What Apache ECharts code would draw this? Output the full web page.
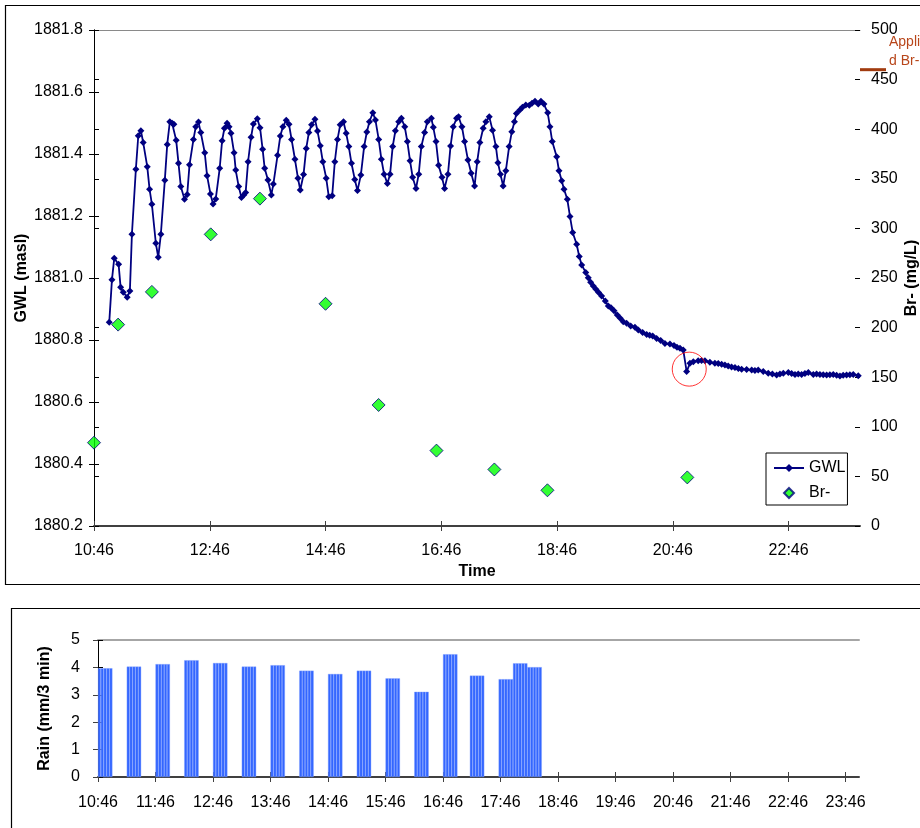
<!DOCTYPE html>
<html>
<head>
<meta charset="utf-8">
<script src="https://cdn.jsdelivr.net/npm/echarts@6/dist/echarts.min.js"></script>
<style>
  html, body { margin: 0; padding: 0; background: #fff; }
  #chart { width: 920px; height: 828px; }
</style>
</head>
<body>
<div id="chart"></div>
<script>
// Time is stored as minutes after the first reading at 10:46.
const START_MIN = 10 * 60 + 46;
const END_MIN = 794;                       // 24:00
const topTimeTicks = [0, 120, 240, 360, 480, 600, 720];
const rainTimeTicks = [0, 60, 120, 180, 240, 300, 360, 420, 480, 540, 600, 660, 720, 780];
const gwlTicks = [1880.2, 1880.4, 1880.6, 1880.8, 1881.0, 1881.2, 1881.4, 1881.6, 1881.8];
const brTicks = [0, 50, 100, 150, 200, 250, 300, 350, 400, 450, 500];
const rainTicks = [0, 1, 2, 3, 4, 5];

// Groundwater level (masl): [minutes, level]
const gwlReadings = [
  [15.8,1880.857],[18.6,1880.994],[21.0,1881.064],[25.5,1881.044],[27.6,1880.970],[30.3,1880.954],
  [34.4,1880.938],[37.2,1880.958],[39.3,1881.141],[43.4,1881.351],[45.9,1881.459],[48.6,1881.475],
  [51.0,1881.437],[55.2,1881.359],[57.6,1881.286],[60.0,1881.238],[64.1,1881.112],[66.6,1881.067],
  [69.3,1881.141],[73.4,1881.315],[75.9,1881.431],[78.6,1881.504],[81.0,1881.499],[82.8,1881.496],
  [85.2,1881.444],[87.6,1881.370],[90.0,1881.295],[93.8,1881.254],[96.6,1881.269],[99.0,1881.365],
  [103.1,1881.447],[105.5,1881.488],[108.3,1881.503],[110.7,1881.469],[114.8,1881.404],[117.2,1881.330],
  [120.7,1881.271],[123.4,1881.239],[126.2,1881.255],[130.3,1881.354],[132.8,1881.443],[135.2,1881.483],
  [137.9,1881.499],[140.0,1881.488],[142.0,1881.467],[145.2,1881.404],[146.9,1881.348],[150.0,1881.295],
  [152.8,1881.260],[155.2,1881.268],[157.2,1881.276],[159.7,1881.375],[162.8,1881.454],[165.2,1881.497],
  [169.3,1881.514],[172.1,1881.485],[174.8,1881.415],[176.9,1881.354],[180.3,1881.316],[183.8,1881.268],
  [185.9,1881.303],[190.3,1881.396],[193.1,1881.458],[195.8,1881.488],[199.3,1881.509],[202.1,1881.496],
  [204.8,1881.447],[208.3,1881.383],[211.4,1881.322],[213.8,1881.284],[217.2,1881.334],[220.0,1881.418],
  [222.7,1881.469],[225.5,1881.494],[229.0,1881.512],[231.7,1881.474],[234.5,1881.427],[237.2,1881.375],
  [240.7,1881.322],[243.4,1881.262],[246.9,1881.265],[249.6,1881.375],[252.4,1881.447],[255.2,1881.494],
  [258.6,1881.504],[261.4,1881.467],[264.1,1881.424],[266.9,1881.370],[270.3,1881.318],[273.1,1881.282],
  [276.6,1881.332],[280.0,1881.424],[282.8,1881.471],[285.5,1881.504],[289.0,1881.533],[291.7,1881.510],
  [295.1,1881.447],[297.9,1881.383],[300.7,1881.335],[304.1,1881.305],[306.9,1881.335],[309.6,1881.424],
  [312.4,1881.475],[315.8,1881.504],[318.6,1881.515],[322.1,1881.488],[324.8,1881.440],[327.6,1881.378],
  [330.3,1881.325],[333.8,1881.289],[336.6,1881.335],[339.3,1881.424],[342.7,1881.469],[345.5,1881.504],
  [349.7,1881.515],[351.7,1881.486],[354.5,1881.440],[357.2,1881.364],[360.7,1881.325],[363.4,1881.289],
  [366.9,1881.335],[369.6,1881.426],[372.4,1881.488],[375.8,1881.515],[377.9,1881.520],[381.4,1881.488],
  [384.1,1881.440],[387.6,1881.381],[391.0,1881.338],[394.5,1881.297],[397.2,1881.375],[400.0,1881.437],
  [403.4,1881.483],[406.2,1881.504],[409.7,1881.520],[413.1,1881.477],[416.6,1881.424],[418.7,1881.372],
  [421.3,1881.335],[424.1,1881.297],[426.9,1881.346],[430.3,1881.424],[433.1,1881.472],[435.8,1881.504],
  [437.9,1881.531],[441.4,1881.542],[444.1,1881.551],[447.6,1881.558],[451.2,1881.557],[454.0,1881.564],
  [457.1,1881.570],[460.5,1881.561],[463.3,1881.570],[466.4,1881.561],[470.3,1881.533],[472.6,1881.488],
  [475.0,1881.440],[479.6,1881.391],[482.0,1881.346],[484.8,1881.314],[487.2,1881.286],[490.6,1881.254],
  [493.4,1881.198],[496.2,1881.147],[500.3,1881.109],[503.0,1881.069],[505.5,1881.042],[509.7,1881.018],
  [512.3,1881.001],[514.8,1880.986],[517.5,1880.974],[520.3,1880.964],[523.1,1880.953],[526.2,1880.942],
  [530.0,1880.926],[533.1,1880.910],[535.9,1880.904],[539.0,1880.894],[542.4,1880.881],[545.5,1880.870],
  [548.6,1880.859],[552.1,1880.854],[556.3,1880.845],[560.7,1880.841],[564.2,1880.832],[568.7,1880.824],
  [572.9,1880.818],[576.0,1880.815],[579.1,1880.813],[583.2,1880.805],[587.4,1880.798],[591.8,1880.789],
  [597.0,1880.787],[601.2,1880.782],[604.3,1880.777],[607.4,1880.773],[610.8,1880.768],[614.3,1880.698],
  [617.7,1880.725],[621.2,1880.730],[626.3,1880.733],[629.8,1880.734],[633.3,1880.733],[638.4,1880.728],
  [643.6,1880.725],[647.1,1880.724],[650.6,1880.722],[654.0,1880.719],[657.4,1880.716],[660.9,1880.713],
  [664.4,1880.711],[667.9,1880.708],[671.3,1880.706],[676.5,1880.705],[681.7,1880.703],[685.1,1880.702],
  [688.5,1880.703],[693.7,1880.698],[698.9,1880.693],[703.2,1880.690],[707.6,1880.687],[711.0,1880.690],
  [714.5,1880.693],[719.7,1880.695],[723.1,1880.692],[726.6,1880.689],[730.0,1880.690],[733.5,1880.689],
  [736.9,1880.692],[740.4,1880.695],[745.6,1880.689],[749.0,1880.690],[752.5,1880.689],[755.9,1880.688],
  [759.4,1880.687],[762.8,1880.688],[766.3,1880.689],[769.8,1880.686],[773.2,1880.684],[776.6,1880.686],
  [780.1,1880.687],[783.5,1880.688],[787.0,1880.689],[792.2,1880.685]
];

// Bromide samples (mg/L)
const brTime = [0, 25, 60, 121, 172, 240, 295, 355, 415, 470, 615];
const brConc = [84, 203, 236, 294, 330, 224, 122, 76, 57, 36, 49];
const appliedBr = 460;

// Rainfall, one value per 3-minute interval (start minute, mm)
const rainStart = [
  0,3,6,9,12, 30,33,36,39,42, 60,63,66,69,72, 90,93,96,99,102,
  120,123,126,129,132, 150,153,156,159,162, 180,183,186,189,192, 210,213,216,219,222,
  240,243,246,249,252, 270,273,276,279,282, 300,303,306,309,312, 330,333,336,339,342,
  360,363,366,369,372, 388,391,394,397,400, 418,421,424,427,430, 433,436,439,442,445,
  448,451,454,457,460
];
const rainMm = [
  3.97,3.97,3.97,3.97,3.97, 4.03,4.03,4.03,4.03,4.03, 4.12,4.12,4.12,4.12,4.12, 4.26,4.26,4.26,4.26,4.26,
  4.16,4.16,4.16,4.16,4.16, 4.03,4.03,4.03,4.03,4.03, 4.08,4.08,4.08,4.08,4.08, 3.88,3.88,3.88,3.88,3.88,
  3.76,3.76,3.76,3.76,3.76, 3.88,3.88,3.88,3.88,3.88, 3.60,3.60,3.60,3.60,3.60, 3.11,3.11,3.11,3.11,3.11,
  4.48,4.48,4.48,4.48,4.48, 3.70,3.70,3.70,3.70,3.70, 3.57,3.57,3.57,3.57,3.57, 4.15,4.15,4.15,4.15,4.15,
  4.01,4.01,4.01,4.01,4.01
];

const FONT = '"Liberation Sans", Arial, Helvetica, sans-serif';

function clock(m) {
  const t = START_MIN + Math.round(m);
  const h = Math.floor(t / 60), mm = t % 60;
  return h + ':' + String(mm).padStart(2, '0');
}

const labelStyle = { color: '#000', fontSize: 16, fontFamily: FONT };
const nameStyle = { color: '#000', fontSize: 16, fontWeight: 'bold', fontFamily: FONT };

// Excel-style crossing ticks: one axis draws the outer half, a silent twin the inner half.
function innerTwinX(gridIndex, min, max, ticks) {
  return {
    type: 'value', gridIndex, position: 'bottom', min, max,
    axisLine: { show: false }, splitLine: { show: false }, axisLabel: { show: false },
    axisTick: { show: true, inside: true, length: 5, customValues: ticks, lineStyle: { color: '#404040' } }
  };
}
function innerTwinY(gridIndex, position, min, max, interval) {
  return {
    type: 'value', gridIndex, position, min, max, interval,
    axisLine: { show: false }, splitLine: { show: false }, axisLabel: { show: false },
    axisTick: { show: true, inside: true, length: 5, lineStyle: { color: '#000' } }
  };
}

const chart = echarts.init(document.getElementById('chart'), null, { renderer: 'canvas' });

const option = {
  animation: false,
  backgroundColor: '#fff',
  grid: [
    { left: 94, top: 30, width: 766, height: 496, outerBoundsMode: 'none', containLabel: false },
    { left: 98, top: 640, width: 761, height: 137, outerBoundsMode: 'none', containLabel: false }
  ],
  legend: {
    data: [
      { name: 'GWL' },
      { name: 'Br-', icon: 'path://M0,-1L1,0L0,1L-1,0Z' }
    ],
    orient: 'vertical',
    left: 766, top: 453,
    itemWidth: 30, itemHeight: 10, itemGap: 9,
    padding: [7, 2, 4, 7],
    borderColor: '#000', borderWidth: 1, borderRadius: 0,
    backgroundColor: '#fff',
    textStyle: { color: '#000', fontSize: 16, fontFamily: FONT }
  },
  xAxis: [
    {
      type: 'value', gridIndex: 0, position: 'bottom', min: 0, max: END_MIN,
      axisLine: { show: true, lineStyle: { color: '#404040', width: 2 } },
      axisTick: { show: true, length: 5, customValues: topTimeTicks, lineStyle: { color: '#404040' } },
      axisLabel: Object.assign({ margin: 17, customValues: topTimeTicks, formatter: clock }, labelStyle),
      splitLine: { show: false },
      name: 'Time', nameLocation: 'middle', nameGap: 38, nameTextStyle: nameStyle
    },
    innerTwinX(0, 0, END_MIN, topTimeTicks),
    {
      type: 'value', gridIndex: 0, position: 'top', min: 0, max: END_MIN,
      axisLine: { show: true, lineStyle: { color: '#8a8a8a', width: 1 } },
      axisTick: { show: false }, axisLabel: { show: false }, splitLine: { show: false }
    },
    {
      type: 'value', gridIndex: 1, position: 'bottom', min: 0, max: END_MIN,
      axisLine: { show: true, lineStyle: { color: '#404040', width: 2 } },
      axisTick: { show: true, length: 5, customValues: rainTimeTicks, lineStyle: { color: '#404040' } },
      axisLabel: Object.assign({ margin: 18, customValues: rainTimeTicks, formatter: clock }, labelStyle),
      splitLine: { show: false }
    },
    innerTwinX(1, 0, END_MIN, rainTimeTicks),
    {
      type: 'value', gridIndex: 1, position: 'top', min: 0, max: END_MIN,
      axisLine: { show: true, lineStyle: { color: '#a6a6a6', width: 2 } },
      axisTick: { show: false }, axisLabel: { show: false }, splitLine: { show: false }
    }
  ],
  yAxis: [
    {
      type: 'value', gridIndex: 0, position: 'left',
      min: gwlTicks[0], max: gwlTicks[gwlTicks.length - 1], interval: 0.2,
      axisLine: { show: true, lineStyle: { color: '#000', width: 1 } },
      axisTick: { show: true, length: 5, lineStyle: { color: '#000' } },
      axisLabel: Object.assign({ margin: 11, formatter: v => v.toFixed(1) }, labelStyle),
      splitLine: { show: false },
      name: 'GWL (masl)', nameLocation: 'middle', nameGap: 64, nameRotate: 90,
      nameMoveOverlap: false, nameTextStyle: nameStyle
    },
    {
      type: 'value', gridIndex: 0, position: 'right',
      min: brTicks[0], max: brTicks[brTicks.length - 1], interval: 50,
      axisLine: { show: true, lineStyle: { color: '#000', width: 1 } },
      axisTick: { show: true, length: 5, lineStyle: { color: '#000' } },
      axisLabel: Object.assign({ margin: 11 }, labelStyle),
      splitLine: { show: false },
      name: 'Br- (mg/L)', nameLocation: 'middle', nameGap: 44, nameRotate: 90,
      nameMoveOverlap: false, nameTextStyle: nameStyle
    },
    innerTwinY(0, 'left', gwlTicks[0], gwlTicks[gwlTicks.length - 1], 0.2),
    innerTwinY(0, 'right', brTicks[0], brTicks[brTicks.length - 1], 50),
    {
      type: 'value', gridIndex: 1, position: 'left',
      min: rainTicks[0], max: rainTicks[rainTicks.length - 1], interval: 1,
      axisLine: { show: true, lineStyle: { color: '#000', width: 1 } },
      axisTick: { show: true, length: 5, lineStyle: { color: '#404040' } },
      axisLabel: Object.assign({ margin: 18 }, labelStyle),
      splitLine: { show: false },
      name: 'Rain (mm/3 min)', nameLocation: 'middle', nameGap: 45, nameRotate: 90,
      nameMoveOverlap: false, nameTextStyle: nameStyle
    },
    innerTwinY(1, 'left', rainTicks[0], rainTicks[rainTicks.length - 1], 1)
  ],
  series: [
    {
      name: 'GWL', type: 'line', xAxisIndex: 0, yAxisIndex: 0,
      data: gwlReadings,
      symbol: 'diamond', symbolSize: 7,
      lineStyle: { color: '#000080', width: 1.8 },
      itemStyle: { color: '#000080' },
      z: 3
    },
    {
      name: 'Br-', type: 'scatter', xAxisIndex: 0, yAxisIndex: 1,
      data: brTime.map((t, i) => [t, brConc[i]]),
      symbol: 'diamond', symbolSize: 13, clip: false,
      itemStyle: { color: '#00ff00', borderColor: '#000080', borderWidth: 1 },
      z: 4
    },
    {
      // ring drawn around the step in the recession curve
      name: 'step', type: 'scatter', xAxisIndex: 0, yAxisIndex: 0,
      data: [[617, 1880.706]],
      symbol: 'circle', symbolSize: 34, silent: true,
      itemStyle: { color: 'rgba(0,0,0,0)', borderColor: '#ff0000', borderWidth: 1 },
      z: 5
    },
    {
      name: 'Rain', type: 'bar', xAxisIndex: 3, yAxisIndex: 4,
      data: rainStart.map((t, i) => [t + 1.5, rainMm[i]]),
      barWidth: 2.9,
      itemStyle: { color: '#3366ff', borderColor: '#86a2ff', borderWidth: 0.4 }
    }
  ]
};

chart.setOption(option);

// Frames around both panels and the applied bromide marker beside the right axis.
const xRight = chart.convertToPixel({ xAxisIndex: 0 }, END_MIN);
const yApplied = chart.convertToPixel({ yAxisIndex: 1 }, appliedBr);
chart.setOption({
  graphic: [
    { type: 'rect', shape: { x: 5.5, y: 5.5, width: 1000, height: 579 }, style: { fill: 'none', stroke: '#000', lineWidth: 1.2 }, silent: true, z: -1 },
    { type: 'rect', shape: { x: 11.5, y: 608.5, width: 1000, height: 300 }, style: { fill: 'none', stroke: '#000', lineWidth: 1.2 }, silent: true, z: -1 },
    { type: 'line', shape: { x1: xRight, y1: yApplied, x2: xRight + 26, y2: yApplied }, style: { stroke: '#a13b0f', lineWidth: 3 }, silent: true },
    { type: 'text', x: xRight + 29, y: yApplied - 28, style: { text: 'Applie', fill: '#b8461a', font: '14px ' + FONT, textVerticalAlign: 'middle' }, silent: true },
    { type: 'text', x: xRight + 29, y: yApplied - 9, style: { text: 'd Br-', fill: '#b8461a', font: '14px ' + FONT, textVerticalAlign: 'middle' }, silent: true }
  ]
});
</script>
</body>
</html>
